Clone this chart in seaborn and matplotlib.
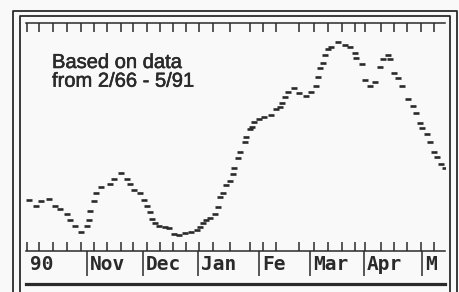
import numpy as np
import pandas as pd
import matplotlib.pyplot as plt
import seaborn as sns
from matplotlib.lines import Line2D
import matplotlib.patheffects as pe

# seasonal curve (position along the season, level)
pos = [29, 36, 41, 49, 55, 60, 67, 70, 75, 81, 87, 89, 90, 94, 96, 101, 110, 114,
       121, 127, 130, 134, 140, 144, 147, 150, 152, 155, 159, 165, 169, 174, 179,
       185, 191, 197, 200, 203, 206, 210, 215, 218, 220, 223, 226, 230, 233, 234,
       238, 240, 245, 246, 250, 252, 254, 259, 264, 271, 276, 280, 282, 285, 288,
       294, 299, 306, 311, 316, 318, 320, 323, 325, 328, 331, 338, 345, 350, 355,
       356, 362, 365, 370, 375, 380, 383, 388, 390, 394, 398, 402, 408, 413, 416,
       420, 422, 427, 430, 434, 437, 441, 445]
level = [51, 45, 50, 52, 45, 42, 37, 31, 25, 19, 25, 31, 40, 50, 58, 64, 67, 72,
         78, 72, 67, 61, 58, 51, 45, 39, 32, 28, 25, 24, 23, 17, 16,
         18, 19, 21, 24, 28, 31, 33, 37, 44, 54, 58, 66, 70, 77, 83,
         93, 99, 109, 114, 122, 124, 129, 132, 134, 136, 142, 144, 148, 154, 159,
         163, 158, 155, 159, 165, 174, 183, 188, 196, 202, 204, 209, 206, 204, 198,
         193, 187, 171, 165, 169, 184, 192, 196, 192, 178, 173, 165, 152, 145, 138,
         128, 123, 117, 109, 99, 94, 87, 83]

week_ticks = [27, 39, 53, 67, 81, 94, 107, 121, 133, 147, 160, 173, 186, 199, 213,
              230, 250, 263, 276, 299, 314, 328, 342, 355, 365, 381, 394, 407,
              421, 434]
month_starts = [27, 87, 143, 198, 259, 310, 364, 422]
month_labels = ['90', 'Nov', 'Dec', 'Jan', 'Fe', 'Mar', 'Apr', 'M']

df = pd.DataFrame({'pos': pos, 'level': level})

ink = '#2a2a2a'
sns.set_style('white')

W, H = 459, 292
fig = plt.figure(figsize=(W / 100, H / 100), dpi=100)
fig.patch.set_facecolor('#f9f9f9')


def box(x0, y0, x1, y1):
    return [x0 / W, 1 - y1 / H, (x1 - x0) / W, (y1 - y0) / H]


# double frame around everything
for x0, y0, x1 in [(13, 11, 457), (20, 16, 450)]:
    fig.add_artist(Line2D([x0 / W, x0 / W, x1 / W, x1 / W], [0, 1 - y0 / H, 1 - y0 / H, 0],
                          transform=fig.transFigure, color=ink, lw=1.3))

# main plot
ax = fig.add_axes(box(26, 23, 445, 251))
ax.set_facecolor('none')
sns.scatterplot(data=df, x='pos', y='level', marker='_', s=24, linewidth=1.9,
                color=ink, ax=ax)
ax.set_xlim(26, 445)
ax.set_ylim(0, 228)
ax.set_xticks(week_ticks)
ax.set_yticks([])
ax.tick_params(axis='x', direction='in', top=True, bottom=True, length=6.5,
               width=1.1, color=ink, labelbottom=False)
for side in ['left', 'right']:
    ax.spines[side].set_visible(False)
for side in ['top', 'bottom']:
    ax.spines[side].set_color(ink)
    ax.spines[side].set_linewidth(1.1)
ax.set_xlabel('')
ax.set_ylabel('')
ax.text(52, 198, 'Based on data\nfrom 2/66 - 5/91', ha='left', va='top',
        fontsize=14.5, linespacing=0.98, family='Liberation Sans', color=ink,
        path_effects=[pe.withStroke(linewidth=0.4, foreground=ink)])

# month strip
sx = fig.add_axes(box(26, 251, 445, 284))
sx.set_facecolor('none')
sx.set_xlim(26, 445)
sx.set_ylim(33, 0)
sx.set_xticks([])
sx.set_yticks([])
for side in ['left', 'right', 'top']:
    sx.spines[side].set_visible(False)
sx.spines['bottom'].set_color(ink)
sx.spines['bottom'].set_linewidth(2.3)
sx.vlines(month_starts[1:], 0, 25, color=ink, lw=1.1)
for m, lab in zip(month_starts, month_labels):
    sx.text(m + 3, 13, lab, ha='left', va='center', family='DejaVu Sans Mono',
            fontweight='bold', fontsize=14, color=ink)

fig.savefig('out.png', dpi=100, facecolor=fig.get_facecolor())
